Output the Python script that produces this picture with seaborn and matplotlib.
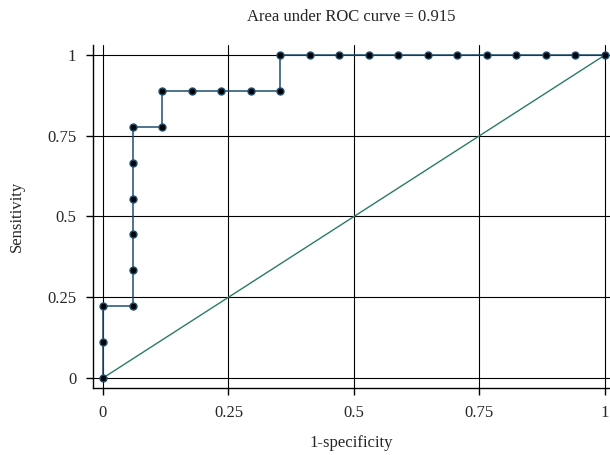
import matplotlib
matplotlib.use("Agg")
import matplotlib.pyplot as plt
import seaborn as sns
import pandas as pd

# ROC points (1-specificity, sensitivity)
fpr = [0, 0, 0, 0.0588, 0.0588, 0.0588, 0.0588, 0.0588, 0.0588,
       0.1176, 0.1176, 0.1765, 0.2353, 0.2941, 0.3529, 0.3529,
       0.4118, 0.4706, 0.5294, 0.5882, 0.6471, 0.7059, 0.7647,
       0.8235, 0.8824, 0.9412, 1.0]
tpr = [0, 0.1111, 0.2222, 0.2222, 0.3333, 0.4444, 0.5556, 0.6667, 0.7778,
       0.7778, 0.8889, 0.8889, 0.8889, 0.8889, 0.8889, 1.0,
       1.0, 1.0, 1.0, 1.0, 1.0, 1.0, 1.0,
       1.0, 1.0, 1.0, 1.0]
ref_line = [0, 1]
ticks = [0, 0.25, 0.5, 0.75, 1]
tick_labels = ["0", "0.25", "0.5", "0.75", "1"]
auc = 0.915

df = pd.DataFrame({"fpr": fpr, "tpr": tpr})

sns.set_style("white")
plt.rcParams["font.family"] = ["Liberation Serif", "DejaVu Serif"]

fig = plt.figure(figsize=(6.1, 4.55), dpi=100)
ax = fig.add_axes([93 / 610, 67 / 455, 517 / 610, 343 / 455])

ax.set_xticks(ticks)
ax.set_xticklabels(tick_labels)
ax.set_yticks(ticks)
ax.set_yticklabels(tick_labels)
ax.grid(True, color="black", linewidth=0.8)
ax.set_axisbelow(True)

sns.lineplot(x=ref_line, y=ref_line, ax=ax, color="#2b7a68", linewidth=1.0)
sns.lineplot(data=df, x="fpr", y="tpr", ax=ax, sort=False, estimator=None,
             color="#1d4f6e", linewidth=1.1, marker="o", markersize=5,
             markerfacecolor="black", markeredgecolor="#1d4f6e",
             markeredgewidth=1.0, clip_on=False)

ax.set_xlim(-0.0199, 1.01)
ax.set_ylim(-0.031, 1.031)

for s in ["top", "right"]:
    ax.spines[s].set_visible(False)
for s in ["left", "bottom"]:
    ax.spines[s].set_color("black")
    ax.spines[s].set_linewidth(1.0)

ax.tick_params(direction="out", length=5, width=1, color="black",
               labelsize=12, left=True, bottom=True, pad=7)
ax.set_xlabel("1-specificity", fontsize=12, labelpad=10)
ax.set_ylabel("Sensitivity", fontsize=12, labelpad=16)
ax.set_title(f"Area under ROC curve = {auc}", fontsize=12, pad=17)

fig.savefig("out.png", dpi=100)
